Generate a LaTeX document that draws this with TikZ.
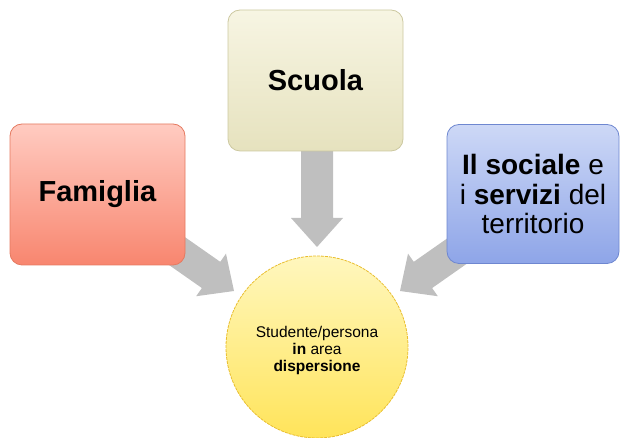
\documentclass[tikz,border=0pt]{standalone}
\usepackage{fontspec}
\setmainfont{Liberation Sans}
\definecolor{famtop}{HTML}{FFCBC1}
\definecolor{fambot}{HTML}{F8866F}
\definecolor{famline}{HTML}{E57A60}
\definecolor{scutop}{HTML}{F7F5E3}
\definecolor{scubot}{HTML}{E6E2BE}
\definecolor{sculine}{HTML}{CCC8A0}
\definecolor{soctop}{HTML}{CDD8F6}
\definecolor{socbot}{HTML}{8EA5E8}
\definecolor{socline}{HTML}{6E87D0}
\definecolor{cirtop}{HTML}{FFF7BE}
\definecolor{cirbot}{HTML}{FFE45A}
\definecolor{cirline}{HTML}{E9BE2E}
\definecolor{arrowgray}{HTML}{BFBFBF}
\begin{document}
\begin{tikzpicture}[x=1pt,y=1pt,
  boxstyle/.style={draw, line width=0.8pt, rounded corners=12pt, minimum width=175pt, minimum height=141pt, inner sep=0pt, align=center, text=black},
  bigtext/.style={font=\fontsize{29}{30}\selectfont},
  blockarrow/.style={fill=arrowgray, draw=none}
]
\useasboundingbox (0,0) rectangle (620,438);
% arrow tips (named coordinates)
\coordinate (tipL) at (234,147);
\coordinate (tipM) at (317,191);
\coordinate (tipR) at (400,147);
% block arrows drawn first, boxes cover their tails
\begin{scope}[shift={(tipL)}, rotate=-35]
  \fill[blockarrow] (0,0) -- (-28,26) -- (-28,16) -- (-120,16) -- (-120,-16) -- (-28,-16) -- (-28,-26) -- cycle;
\end{scope}
\begin{scope}[shift={(tipM)}, rotate=-90]
  \fill[blockarrow] (0,0) -- (-29,26) -- (-29,16) -- (-120,16) -- (-120,-16) -- (-29,-16) -- (-29,-26) -- cycle;
\end{scope}
\begin{scope}[shift={(tipR)}, rotate=-145]
  \fill[blockarrow] (0,0) -- (-28,26) -- (-28,16) -- (-120,16) -- (-120,-16) -- (-28,-16) -- (-28,-26) -- cycle;
\end{scope}
% boxes
\node[boxstyle, bigtext, draw=famline, top color=famtop, bottom color=fambot] (fam) at (97.5,243.5) {\textbf{Famiglia}};
\node[boxstyle, bigtext, draw=sculine, top color=scutop, bottom color=scubot] (scu) at (315.5,357.5) {\textbf{Scuola}};
\node[boxstyle, font=\fontsize{28}{29.5}\selectfont, minimum width=172pt, minimum height=139pt, draw=socline, top color=soctop, bottom color=socbot] (soc) at (533,244) {\textbf{Il sociale} e\\i \textbf{servizi} del\\territorio};
% central circle
\node[circle, minimum size=182pt, inner sep=0pt, draw=cirline, line width=0.8pt, dash pattern=on 3pt off 1pt, top color=cirtop, bottom color=cirbot] (stud) at (317,91) {};
\node[align=center, font=\fontsize{15.5}{17}\selectfont, text=black] (studtext) at ([yshift=-3pt]stud.center) {Studente/persona\\\textbf{in} area\\\textbf{dispersione}};
\end{tikzpicture}
\end{document}
